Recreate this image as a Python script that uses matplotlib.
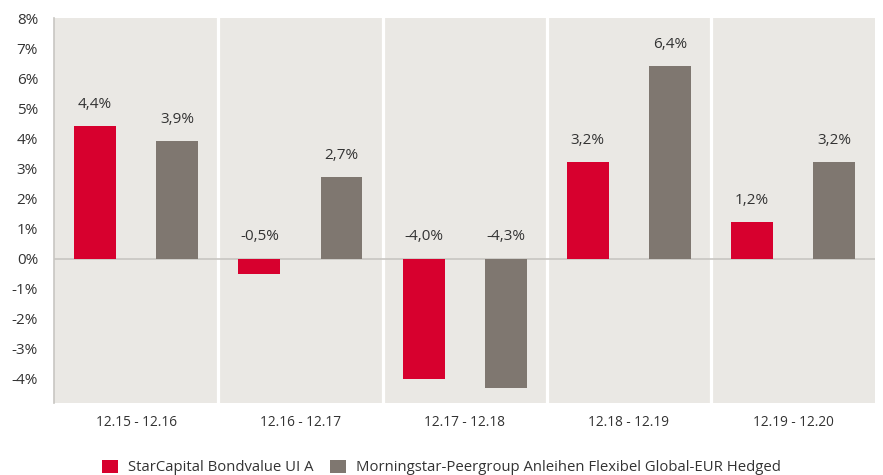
import matplotlib.pyplot as plt
import numpy as np

periods = ["12.15 - 12.16", "12.16 - 12.17", "12.17 - 12.18", "12.18 - 12.19", "12.19 - 12.20"]
fund = [4.4, -0.5, -4.0, 3.2, 1.2]
peer = [3.9, 2.7, -4.3, 6.4, 3.2]
series_names = ["StarCapital Bondvalue UI A",
                "Morningstar-Peergroup Anleihen Flexibel Global-EUR Hedged"]

red = "#D7002E"
grey = "#7F7770"
panel = "#EAE8E4"
txt = "#333333"

plt.rcParams['font.family'] = ['Open Sans', 'DejaVu Sans']

fig = plt.figure(figsize=(8.83, 4.75), dpi=100)
ax = fig.add_axes([0.0612, 0.152, 0.93, 0.81])
ax.set_facecolor(panel)

x = np.arange(len(periods))
w = 0.255
off = 0.25
ax.bar(x - off, fund, w, color=red, label=series_names[0], zorder=3)
ax.bar(x + off, peer, w, color=grey, label=series_names[1], zorder=3)

# white separators between periods
for b in x[:-1] + 0.5:
    ax.axvline(b, color="white", lw=2.3, zorder=1)
ax.axhline(0, color="#C8C6C2", lw=1.2, zorder=2)

# value labels
for vals, dx in ((fund, -off), (peer, off)):
    for xi, v in zip(x, vals):
        lab = f"{v:.1f}".replace(".", ",") + "%"
        ax.text(xi + dx, max(v, 0) + 0.72, lab, ha="center", va="center",
                fontsize=11, color=txt, zorder=4)

ax.set_xlim(-0.5, len(periods) - 0.5)
ax.set_ylim(-4.8, 8.0)
ax.set_yticks(range(-4, 9))
ax.set_yticklabels([f"{t}%" for t in range(-4, 9)], fontsize=11, color=txt)
ax.set_xticks(x)
ax.set_xticklabels(periods, fontsize=9.8, color=txt)
ax.tick_params(length=0)
ax.tick_params(axis="x", pad=8.5)
ax.tick_params(axis="y", pad=11.5)
for s in ("top", "right", "bottom"):
    ax.spines[s].set_visible(False)
ax.spines["left"].set_color("#C8C6C2")
ax.spines["left"].set_linewidth(1.2)

fig.legend(loc="center", bbox_to_anchor=(0.5, 0.016), ncol=2, frameon=False,
           fontsize=10.7, handlelength=1.08, handleheight=1.0, handletextpad=0.67,
           columnspacing=1.08, labelcolor=txt)

fig.savefig("out.png", dpi=100)
